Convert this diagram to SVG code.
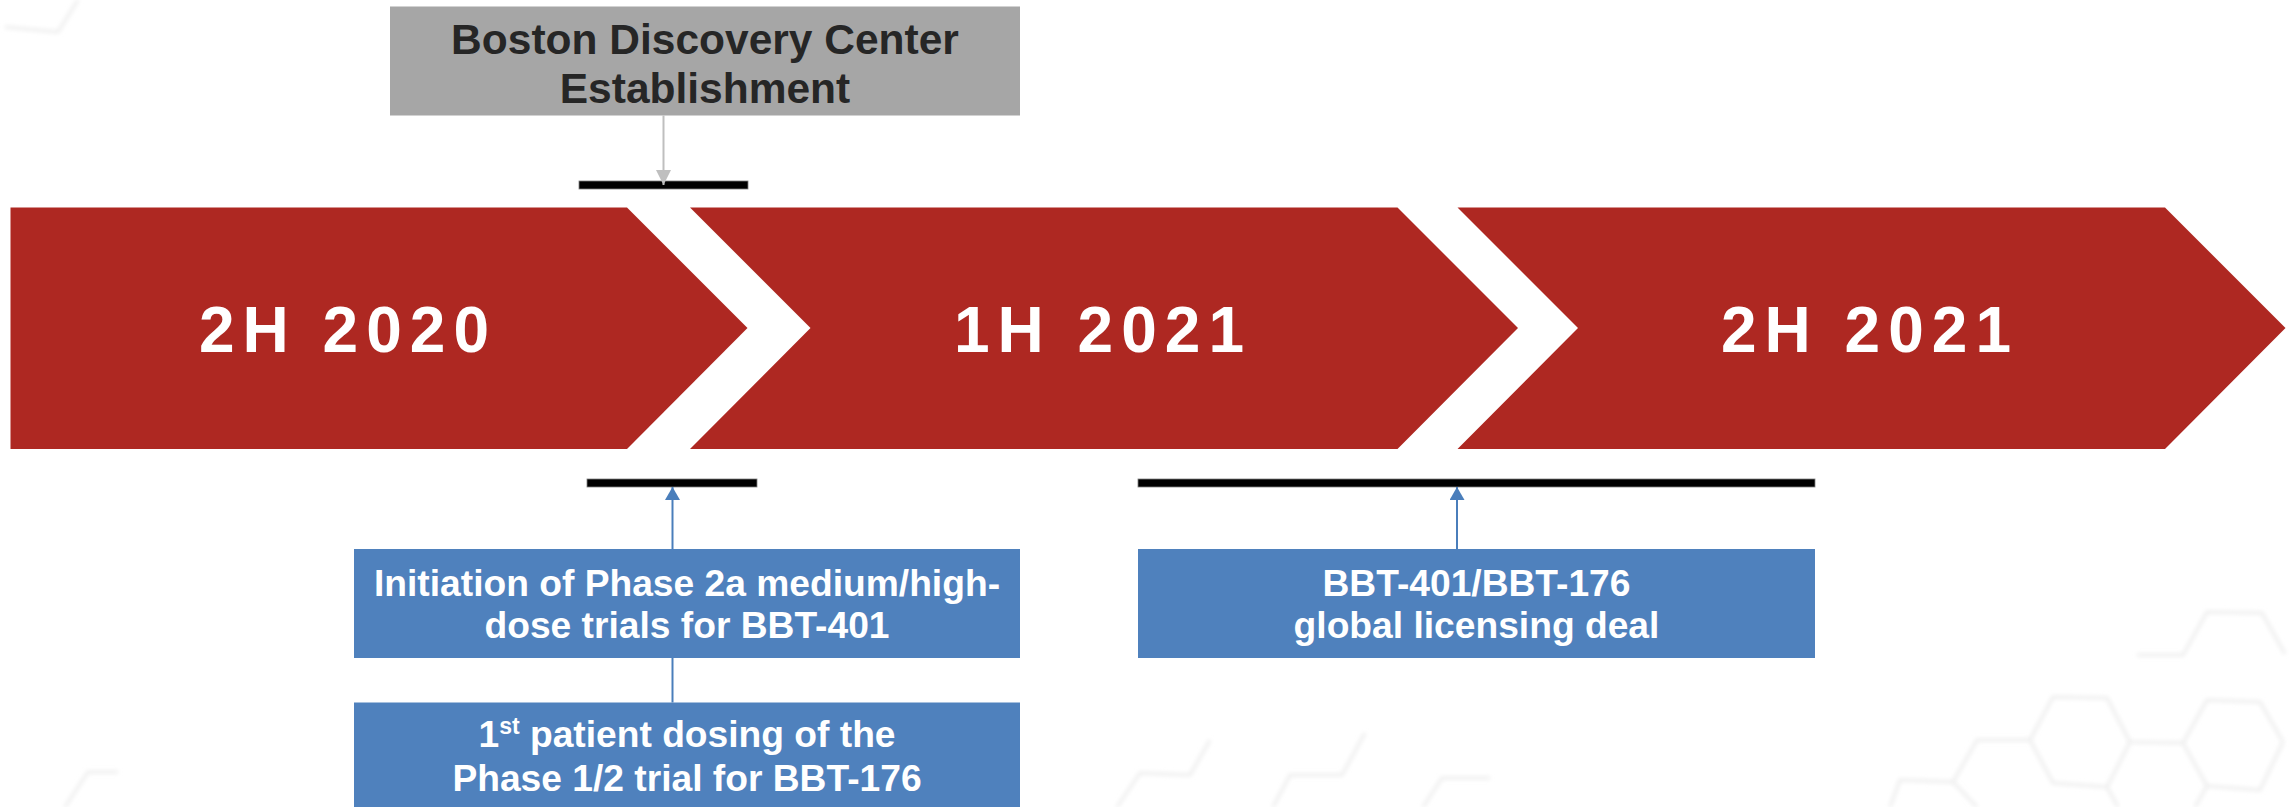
<svg xmlns="http://www.w3.org/2000/svg" width="2293" height="807" viewBox="0 0 2293 807">
  <defs>
    <style>
      .band { fill: #AE2822; }
      .period { font-family: "Liberation Sans", Arial, sans-serif; font-weight: bold; font-size: 64px; letter-spacing: 8px; fill: #FFFFFF; text-anchor: middle; }
      .gray-box { fill: #A6A6A6; }
      .gray-text { font-family: "Liberation Sans", Arial, sans-serif; font-weight: bold; font-size: 42.5px; fill: #262626; text-anchor: middle; }
      .blue-box { fill: #4F81BD; }
      .blue-text { font-family: "Liberation Sans", Arial, sans-serif; font-weight: bold; font-size: 37.2px; fill: #FFFFFF; text-anchor: middle; }
      .bar { fill: #000000; stroke: #7F7F7F; stroke-width: 0.8; }
      .link-gray { stroke: #BFBFBF; stroke-width: 2; fill: none; }
      .link-blue { stroke: #4A7EBB; stroke-width: 2; fill: none; }
      .hex { fill: none; stroke: #EDEDED; stroke-width: 3; stroke-linejoin: round; filter: url(#soft); }
    </style>
    <filter id="soft" x="-20%" y="-20%" width="140%" height="140%">
      <feGaussianBlur stdDeviation="2.2"/>
    </filter>
    <marker id="head-gray" markerUnits="userSpaceOnUse" markerWidth="16" markerHeight="16" refX="15" refY="7.5" orient="auto">
      <path d="M0,0 L15,7.5 L0,15 Z" fill="#BFBFBF"/>
    </marker>
    <marker id="head-blue" markerUnits="userSpaceOnUse" markerWidth="16" markerHeight="16" refX="13" refY="7.5" orient="auto">
      <path d="M0,0 L13,7.5 L0,15 Z" fill="#4A7EBB"/>
    </marker>
  </defs>

  <rect width="2293" height="807" fill="#FFFFFF"/>

  <!-- faint hexagon texture in the corners -->
  <g id="texture">
    <path class="hex" d="M5,27 L58,32 L78,0"/>
    <path class="hex" d="M65,807 L88,772 L118,772"/>
    <path class="hex" d="M1117,807 L1140,773 L1190,775 L1210,740"/>
    <path class="hex" d="M1273,807 L1290,775 L1342,775 L1365,733"/>
    <path class="hex" d="M1423,807 L1442,778 L1490,778"/>
    <path class="hex" d="M1890,807 L1900,780 L1953,782 L1977,740 L2030,740 L2053,697 L2107,698 L2130,742 L2183,743 L2207,700 L2260,702 L2283,742"/>
    <path class="hex" d="M2137,655 L2183,655 L2207,612 L2262,613 L2285,654"/>
    <path class="hex" d="M1953,782 L1977,807"/>
    <path class="hex" d="M2030,740 L2053,783 L2107,787 L2130,742"/>
    <path class="hex" d="M2107,787 L2118,807"/>
    <path class="hex" d="M2183,743 L2207,786 L2260,790 L2283,742"/>
    <path class="hex" d="M2207,786 L2195,807"/>
  </g>

  <!-- timeline periods -->
  <g id="period-2h2020">
    <path class="band" d="M10.5,207.5 H627 L747.5,328 L627,449 H10.5 Z"/>
    <text class="period" x="348" y="352">2H 2020</text>
  </g>
  <g id="period-1h2021">
    <path class="band" d="M690,207.5 H1397.5 L1518,328 L1397.5,449 H690 L810.5,328 Z"/>
    <text class="period" x="1103" y="352">1H 2021</text>
  </g>
  <g id="period-2h2021">
    <path class="band" d="M1457.5,207.5 H2165 L2285.5,328 L2165,449 H1457.5 L1578,328 Z"/>
    <text class="period" x="1870" y="352">2H 2021</text>
  </g>

  <!-- span markers -->
  <g id="span-top">
    <rect class="bar" x="579" y="181" width="169" height="8"/>
  </g>
  <g id="span-bottom-left">
    <rect class="bar" x="587" y="479" width="170" height="8"/>
  </g>
  <g id="span-bottom-right">
    <rect class="bar" x="1138" y="479" width="677" height="8"/>
  </g>

  <!-- milestone boxes -->
  <g id="boston-center">
    <rect class="gray-box" x="390" y="6.5" width="630" height="109"/>
    <text class="gray-text" x="705" y="54">Boston Discovery Center</text>
    <text class="gray-text" x="705" y="103">Establishment</text>
  </g>
  <g id="phase2a-bbt401">
    <rect class="blue-box" x="354" y="549" width="666" height="109"/>
    <text class="blue-text" x="687" y="596">Initiation of Phase 2a medium/high-</text>
    <text class="blue-text" x="687" y="638">dose trials for BBT-401</text>
  </g>
  <g id="first-patient-bbt176">
    <rect class="blue-box" x="354" y="702.5" width="666" height="105"/>
    <text class="blue-text" x="687" y="747">1<tspan font-size="23" dy="-13">st</tspan><tspan dy="13"> patient dosing of the</tspan></text>
    <text class="blue-text" x="687" y="791">Phase 1/2 trial for BBT-176</text>
  </g>
  <g id="licensing-deal">
    <rect class="blue-box" x="1138" y="549" width="677" height="109"/>
    <text class="blue-text" x="1476.5" y="596">BBT-401/BBT-176</text>
    <text class="blue-text" x="1476.5" y="638">global licensing deal</text>
  </g>

  <!-- connectors -->
  <g id="connectors">
    <line class="link-gray" x1="663.5" y1="115.5" x2="663.5" y2="185" marker-end="url(#head-gray)"/>
    <line class="link-blue" x1="672.5" y1="549" x2="672.5" y2="487" marker-end="url(#head-blue)"/>
    <line class="link-blue" x1="672.5" y1="658" x2="672.5" y2="702.5"/>
    <line class="link-blue" x1="1457" y1="549" x2="1457" y2="487" marker-end="url(#head-blue)"/>
  </g>
</svg>
